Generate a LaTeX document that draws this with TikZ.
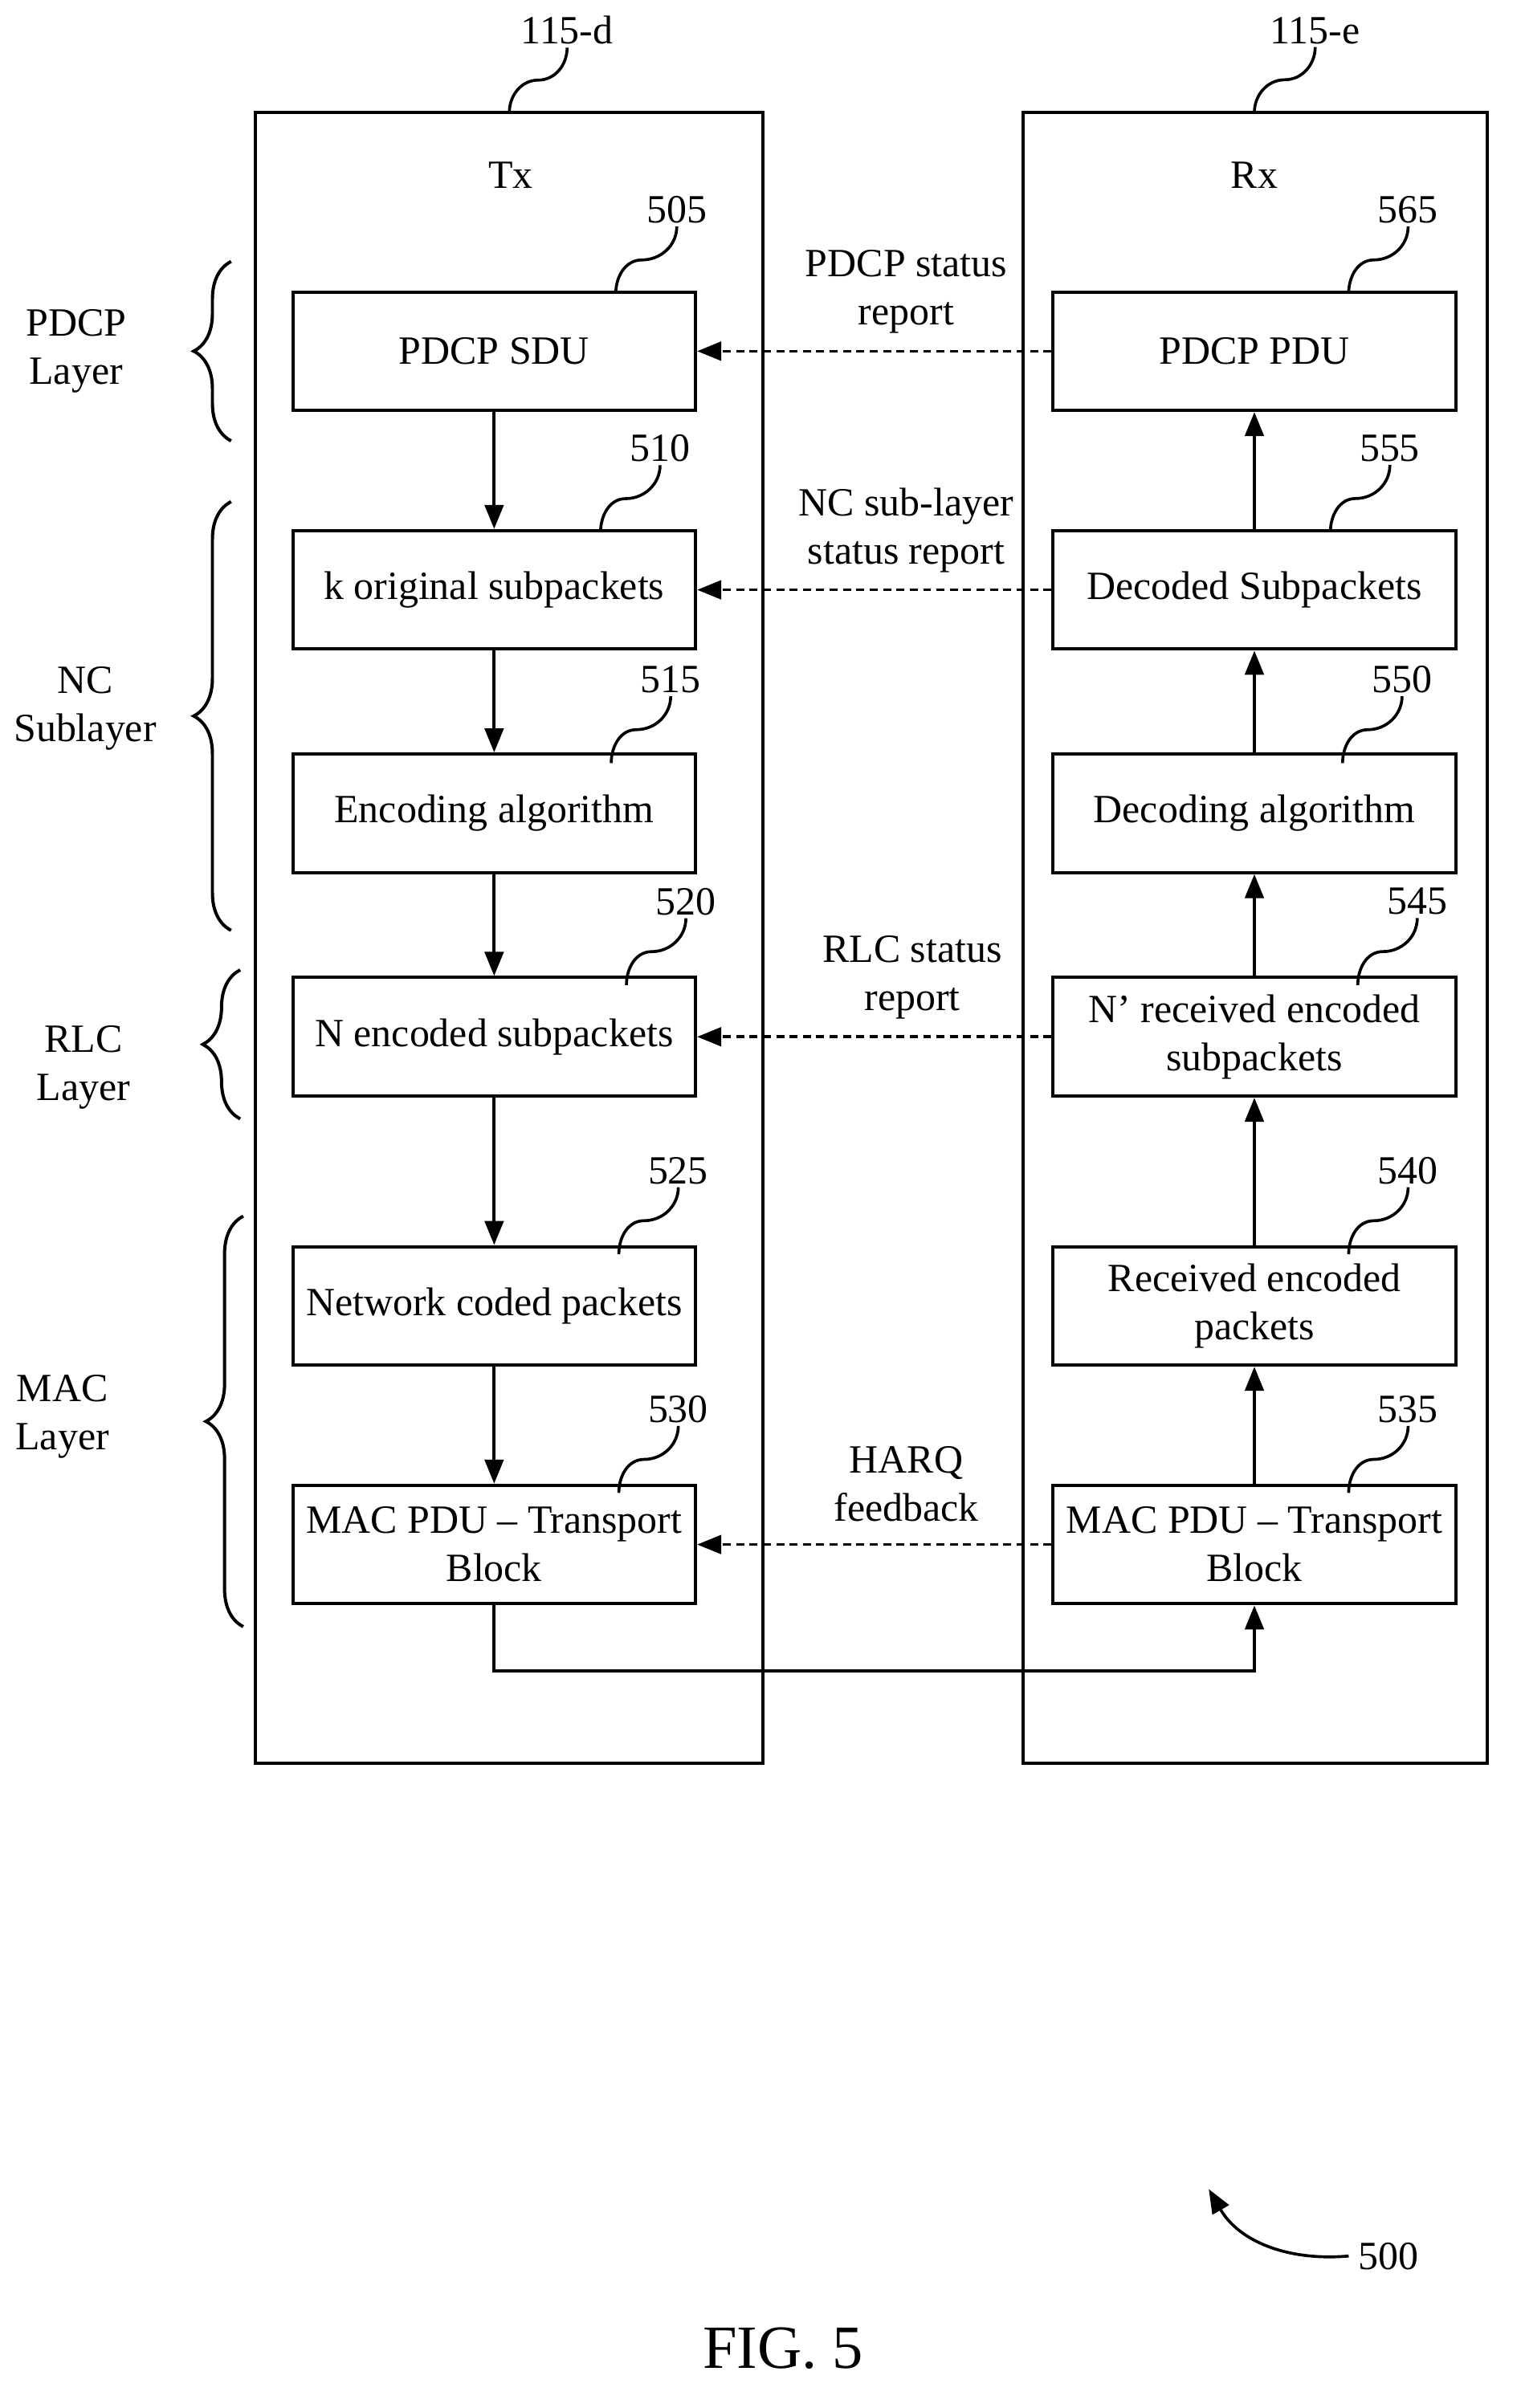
\documentclass[tikz,border=0pt]{standalone}
\usepackage{fontspec}
\setmainfont{Liberation Serif}
\usetikzlibrary{positioning,calc,arrows.meta,decorations.pathreplacing}
\tikzset{
  blk/.style={draw,line width=1.2pt,minimum width=5.3cm,minimum height=1.56cm,align=center,inner sep=2pt},
  dev/.style={draw,line width=1.2pt},
  num/.style={inner sep=1pt},
  flow/.style={line width=1.2pt,-{Triangle[length=9pt,width=7pt]}},
  fb/.style={line width=1.1pt,dashed,dash pattern=on 3pt off 2pt,-{Triangle[length=9pt,width=7pt]}},
  lead/.style={line width=1.1pt},
  brc/.style={line width=1.2pt,decorate,decoration={brace,amplitude=14pt}},
  lbl/.style={align=center,inner sep=1pt}
}
\begin{document}
\begin{tikzpicture}[x=0.02cm,y=-0.02cm,font=\fontsize{15}{18}\selectfont]
\useasboundingbox (0,0) rectangle (1000,1584);
% devices
\draw[dev] (168,74) rectangle (502,1160);
\draw[dev] (673,74) rectangle (978,1160);
\node[num] (d) at (373,20) {115-d};
\node[num] (e) at (865,20) {115-e};
\coordinate (dA) at (335,74);
\coordinate (eA) at (825,74);
\draw[lead] (dA) to[out=90,in=180] ($(dA)!0.5!(d.south)$) to[out=0,in=-90] (d.south);
\draw[lead] (eA) to[out=90,in=180] ($(eA)!0.5!(e.south)$) to[out=0,in=-90] (e.south);
\node (tx) at (336,115) {Tx};
\node (rx) at (825,115) {Rx};
% Tx column
\node[blk] (sdu) at (325,231) {PDCP SDU};
\node[blk] (orig) at (325,388) {k original subpackets};
\node[blk] (enc) at (325,535) {Encoding algorithm};
\node[blk] (nenc) at (325,682) {N encoded subpackets};
\node[blk] (ncp) at (325,859) {Network coded packets};
\node[blk] (txmac) at (325,1016) {MAC PDU -- Transport\\Block};
% Rx column
\node[blk] (pdu) at (825,231) {PDCP PDU};
\node[blk] (dec) at (825,388) {Decoded Subpackets};
\node[blk] (dalg) at (825,535) {Decoding algorithm};
\node[blk] (nrx) at (825,682) {N’ received encoded\\subpackets};
\node[blk] (renc) at (825,859) {Received encoded\\packets};
\node[blk] (rxmac) at (825,1016) {MAC PDU -- Transport\\Block};
% reference numbers
\foreach \b/\n/\x/\y/\s in {sdu/505/445/138/405, orig/510/434/295/395, enc/515/441/447/402,
  nenc/520/451/593/412, ncp/525/446/770/407, txmac/530/446/927/407,
  pdu/565/926/138/887, dec/555/914/295/875, dalg/550/922/447/883,
  nrx/545/932/593/893, renc/540/926/770/887, rxmac/535/926/927/887}{
  \node[num] (n\n) at (\x,\y) {\n};
  \coordinate (s\n) at (\s,\y+55);
  \draw[lead] (s\n) to[out=90,in=180] ($(s\n)!0.5!(n\n.south west)+(8,0)$) to[out=0,in=-90] ($(n\n.south west)+(22,0)$);
}
% flows
\draw[flow] (sdu) -- (orig);
\draw[flow] (orig) -- (enc);
\draw[flow] (enc) -- (nenc);
\draw[flow] (nenc) -- (ncp);
\draw[flow] (ncp) -- (txmac);
\draw[flow] (rxmac) -- (renc);
\draw[flow] (renc) -- (nrx);
\draw[flow] (nrx) -- (dalg);
\draw[flow] (dalg) -- (dec);
\draw[flow] (dec) -- (pdu);
\draw[flow] (txmac.south) -- ++(0,43) -| (rxmac.south);
% feedback
\draw[fb] (pdu) -- (sdu);
\draw[fb] (dec) -- (orig);
\draw[fb] (nrx) -- (nenc);
\draw[fb] (rxmac) -- (txmac);
\node[lbl] (f1) at (596,192) {PDCP status\\report};
\node[lbl] (f2) at (596,349) {NC sub-layer\\status report};
\node[lbl] (f3) at (600,643) {RLC status\\report};
\node[lbl] (f4) at (596,976) {HARQ\\feedback};
% layer braces
\draw[brc] (152,290) -- (152,172);
\draw[brc] (152,612) -- (152,330);
\draw[brc] (158,736) -- (158,638);
\draw[brc] (160,1070) -- (160,800);
\node[lbl] (l1) at (50,231) {PDCP\\Layer};
\node[lbl] (l2) at (56,466) {NC\\Sublayer};
\node[lbl] (l3) at (55,702) {RLC\\Layer};
\node[lbl] (l4) at (41,932) {MAC\\Layer};
% figure number
\node (fig) at (913,1484) {500};
\coordinate (fa) at (795,1440);
\draw[line width=1.1pt,-{Triangle[length=9pt,width=7pt]}] (fig.west) to[out=185,in=-60] (fa);
\node[font=\fontsize{23}{27}\selectfont] (cap) at (515,1545) {FIG. 5};
\end{tikzpicture}
\end{document}
